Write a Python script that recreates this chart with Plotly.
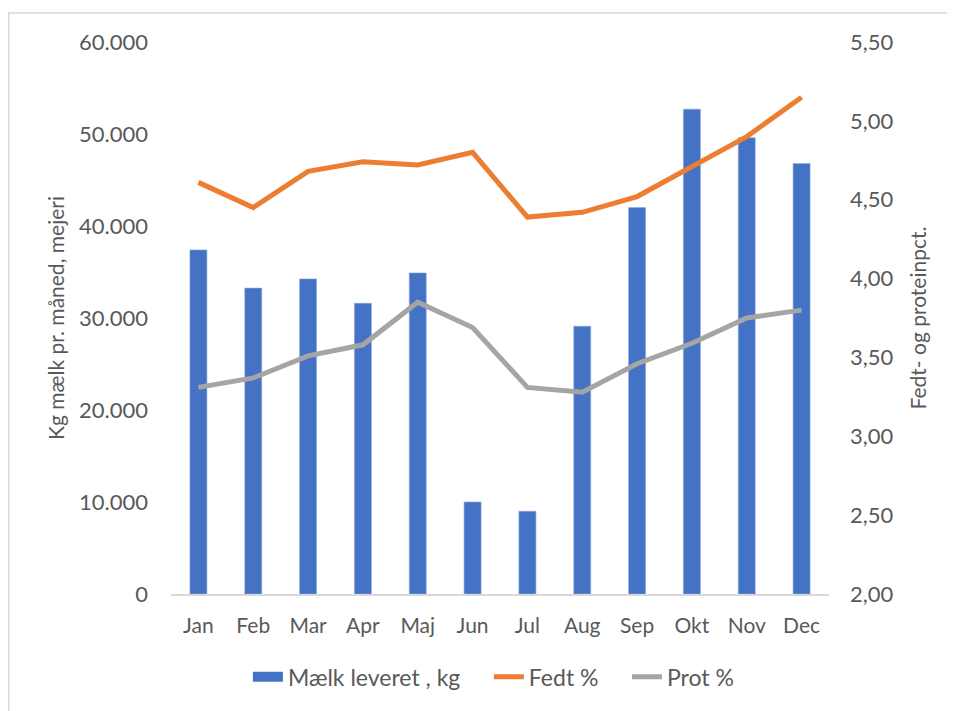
import plotly.graph_objects as go

months = ["Jan", "Feb", "Mar", "Apr", "Maj", "Jun", "Jul", "Aug", "Sep", "Okt", "Nov", "Dec"]
milk_kg = [37400, 33250, 34250, 31600, 34900, 10000, 9000, 29100, 42000, 52700, 49600, 46800]
fedt_pct = [4.61, 4.45, 4.68, 4.74, 4.72, 4.80, 4.39, 4.42, 4.52, 4.71, 4.90, 5.15]
prot_pct = [3.31, 3.37, 3.51, 3.58, 3.85, 3.69, 3.31, 3.28, 3.46, 3.59, 3.75, 3.80]
series_names = ["Mælk leveret , kg", "Fedt %", "Prot %"]

FONT = "Lato"
GREY_TXT = "#595959"
BLUE = "#4472C4"
PAD = "\u00a0" * 4

fig = go.Figure()
fig.add_trace(go.Bar(x=months, y=milk_kg, name=series_names[0], showlegend=False,
                     marker=dict(color=BLUE, line=dict(width=0.6, color="#8EA9DB"))))
# legend proxy for the bar series (wide rectangle swatch)
fig.add_trace(go.Scatter(x=[None], y=[None], name=series_names[0] + PAD, mode="lines",
                         line=dict(color=BLUE, width=13)))
fig.add_trace(go.Scatter(x=months, y=fedt_pct, name=series_names[1] + PAD, yaxis="y2", mode="lines",
                         line=dict(color="#ED7D31", width=5)))
fig.add_trace(go.Scatter(x=months, y=prot_pct, name=series_names[2], yaxis="y2", mode="lines",
                         line=dict(color="#A5A5A5", width=5)))

# page body has an 8px default margin: figure is 947x703 placed at (8,8)
fig.update_layout(
    width=947, height=703,
    margin=dict(l=163, r=126, t=34, b=117),
    paper_bgcolor="white", plot_bgcolor="white",
    separators=",.",
    font=dict(family=FONT, size=21, color=GREY_TXT),
    bargap=0.69,
    showlegend=True,
    legend=dict(orientation="h", x=0.49, xanchor="center", y=-0.15, yanchor="middle",
                font=dict(size=23, color=GREY_TXT), itemwidth=30, traceorder="normal"),
    xaxis=dict(showgrid=False, showline=True, linecolor="#D9D9D9", linewidth=1.5,
               ticks="", tickfont=dict(size=21), ticklabelstandoff=12),
    yaxis=dict(range=[0, 60000], dtick=10000, tickformat=",d", showgrid=False,
               zeroline=False, showline=False, ticks="", ticklabelstandoff=22,
               tickfont=dict(size=22),
               title=dict(text="Kg mælk pr. måned, mejeri", font=dict(size=21), standoff=8)),
    yaxis2=dict(range=[2.0, 5.5], dtick=0.5, tickformat=".2f", overlaying="y", side="right",
                showgrid=False, zeroline=False, showline=False, ticks="", ticklabelstandoff=20,
                tickfont=dict(size=22),
                title=dict(text="Fedt- og proteinpct.", font=dict(size=21), standoff=18)),
    shapes=[dict(type="rect", xref="paper", yref="paper",
                 x0=-0.2466, x1=1.3, y0=-0.3, y1=1.0525,
                 line=dict(color="#D9D9D9", width=1.5), fillcolor="rgba(0,0,0,0)", layer="below")],
)

fig.write_html("out.html")
